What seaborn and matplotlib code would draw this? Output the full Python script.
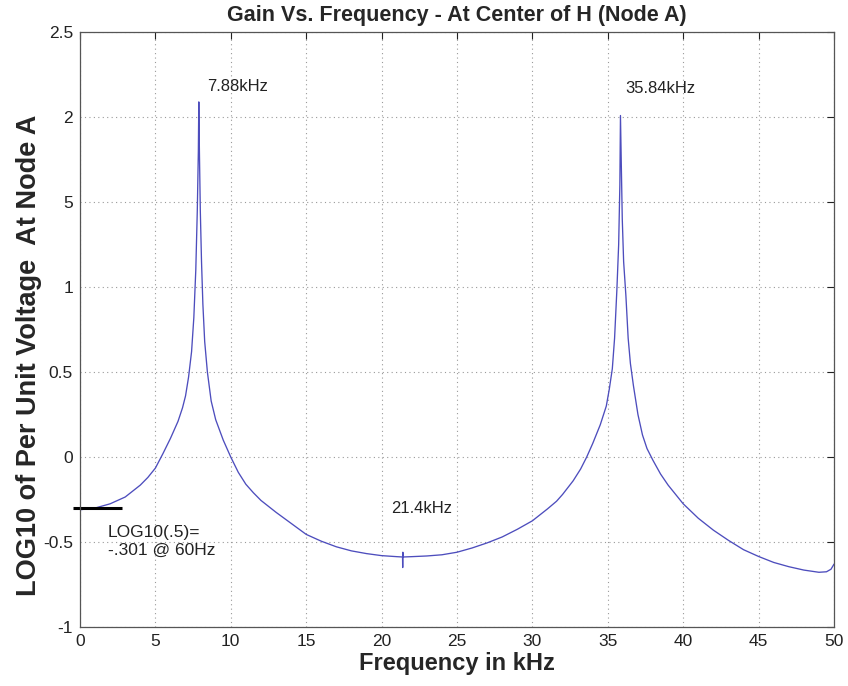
import matplotlib
matplotlib.use("Agg")
import matplotlib.pyplot as plt
import seaborn as sns
import pandas as pd
from matplotlib import font_manager

# ---- data ----
freq_khz = [0, 1, 2, 3, 4, 4.5, 5, 5.5, 6, 6.5, 6.8, 7.0, 7.2, 7.4, 7.55, 7.68,
            7.78, 7.85, 7.88, 7.92, 7.98, 8.06, 8.15, 8.27, 8.45, 8.7, 9.0, 9.5,
            10, 10.5, 11, 11.5, 12, 13, 14, 15, 16, 17, 18, 19, 20, 21,
            21.39, 21.4, 21.41, 21.42, 22, 23, 24, 25, 26, 27, 28, 29, 30, 31,
            31.6, 32, 32.7, 33.2, 33.6, 34, 34.5, 34.9, 35.1, 35.3, 35.45, 35.6,
            35.72, 35.8, 35.84, 35.9, 35.96, 36.05, 36.2, 36.35, 36.5, 36.7,
            37.0, 37.3, 37.6, 38, 38.5, 39, 40, 41, 42, 43, 44, 45, 46, 47, 48,
            49, 49.5, 49.8, 50]
log_gain = [-0.31, -0.30, -0.275, -0.235, -0.165, -0.12, -0.065, 0.02, 0.11,
            0.21, 0.29, 0.36, 0.47, 0.62, 0.82, 1.10, 1.45, 1.80, 2.09, 1.80,
            1.45, 1.15, 0.90, 0.68, 0.50, 0.33, 0.22, 0.10, 0.00, -0.09, -0.16,
            -0.21, -0.255, -0.325, -0.39, -0.455, -0.495, -0.528, -0.552,
            -0.568, -0.58, -0.586, -0.588, -0.65, -0.56, -0.588, -0.586, -0.582,
            -0.575, -0.56, -0.535, -0.505, -0.47, -0.425, -0.375, -0.305,
            -0.26, -0.22, -0.14, -0.07, 0.00, 0.08, 0.19, 0.30, 0.40, 0.52,
            0.70, 0.98, 1.25, 1.60, 2.01, 1.70, 1.40, 1.15, 0.95, 0.70, 0.55,
            0.42, 0.25, 0.13, 0.05, -0.02, -0.10, -0.165, -0.275, -0.36, -0.43,
            -0.49, -0.545, -0.585, -0.62, -0.645, -0.665, -0.678, -0.675,
            -0.66, -0.63]

x_ticks = [0, 5, 10, 15, 20, 25, 30, 35, 40, 45, 50]
x_tick_labels = ["0", "5", "10", "15", "20", "25", "30", "35", "40", "45", "50"]
y_ticks = [-1, -0.5, 0, 0.5, 1, 1.5, 2, 2.5]
y_tick_labels = ["-1", "-0.5", "0", "0.5", "1", "5", "2", "2.5"]

ref_level = -0.301
ref_span = [-0.46, 2.8]

annotations = [
    ("7.88kHz", 8.45, 2.18),
    ("35.84kHz", 36.15, 2.17),
    ("21.4kHz", 20.6, -0.30),
    ("LOG10(.5)=\n-.301 @ 60Hz", 1.85, -0.495),
]

title = "Gain Vs. Frequency - At Center of H (Node A)"
xlabel = "Frequency in kHz"
ylabel = "LOG10 of Per Unit Voltage  At Node A"

# ---- style ----
sns.set_style("white")
names = {f.name for f in font_manager.fontManager.ttflist}
narrow = "Liberation Sans Narrow" if "Liberation Sans Narrow" in names else "Liberation Sans"
plt.rcParams["font.family"] = [narrow, "DejaVu Sans"]

df = pd.DataFrame({"freq": freq_khz, "gain": log_gain})

fig = plt.figure(figsize=(8.48, 6.86), dpi=100)
ax = fig.add_axes([0.0943, 0.086, 0.8892, 0.867])

sns.lineplot(data=df, x="freq", y="gain", ax=ax, color="#4d4dbd",
             linewidth=0.95, estimator=None, sort=False)

ax.set_xlim(0, 50)
ax.set_ylim(-1, 2.5)
ax.set_xticks(x_ticks)
ax.set_xticklabels(x_tick_labels)
ax.set_yticks(y_ticks)
ax.set_yticklabels(y_tick_labels)
ax.tick_params(direction="in", length=5, width=0.8, top=True, right=True,
               labelsize=12.5, colors="#222222", pad=5)
ax.grid(True, linestyle=(0, (1, 3)), color="#9a9a9a", linewidth=0.8)
for sp in ax.spines.values():
    sp.set_color("#555555")
    sp.set_linewidth(0.9)

ax.plot(ref_span, [ref_level, ref_level], color="black", linewidth=2.2,
        clip_on=False, solid_capstyle="butt")

for txt, xv, yv in annotations:
    fs = 12.5 if txt.startswith("LOG") else 12
    ax.text(xv, yv, txt, fontsize=fs, color="#222222", va="center", ha="left",
            linespacing=1.2)

ax.set_title(title, fontsize=15.5, fontweight="bold", pad=8)
ax.set_xlabel(xlabel, fontsize=17, fontweight="bold", labelpad=2)
ax.set_ylabel(ylabel, fontsize=19.5, fontweight="bold")
ax.yaxis.set_label_coords(-0.05, 0.457)

fig.savefig("out.png", dpi=100)
